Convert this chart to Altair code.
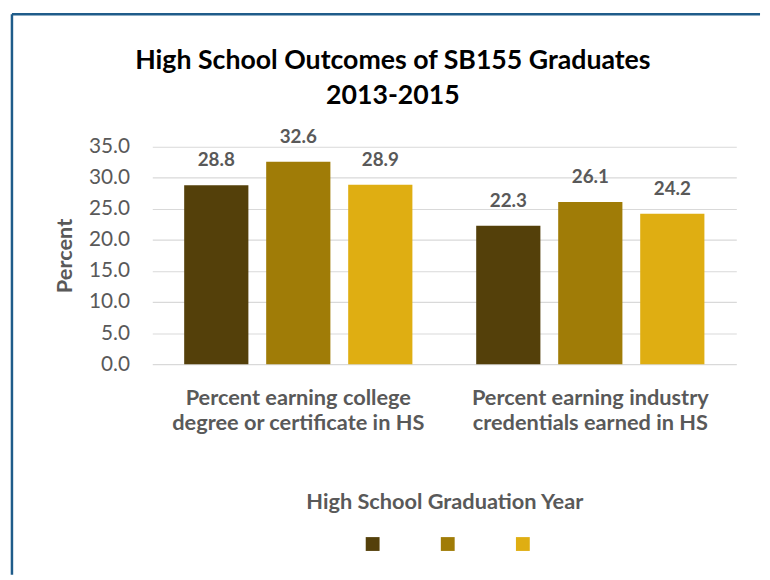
import altair as alt
import pandas as pd

categories = [
    "Percent earning college\ndegree or certificate in HS",
    "Percent earning industry\ncredentials earned in HS",
]
years = ["2013", "2014", "2015"]
values_2013 = [28.8, 22.3]
values_2014 = [32.6, 26.1]
values_2015 = [28.9, 24.2]
colors = ["#54400A", "#A07C07", "#DFAE12"]
y_ticks = [0, 5, 10, 15, 20, 25, 30, 35]

rows = []
for i, c in enumerate(categories):
    for y, vals in zip(years, [values_2013, values_2014, values_2015]):
        rows.append({"category": c, "year": y, "value": vals[i]})
df = pd.DataFrame(rows)

FONT = "Lato"
GRAY = "#595959"

x_enc = alt.X(
    "category:N",
    sort=categories,
    scale=alt.Scale(paddingInner=0, paddingOuter=0),
    axis=alt.Axis(
        title="High School Graduation Year",
        labelExpr="split(datum.label, '\\n')",
        labelAngle=0,
        labelPadding=24,
        labelBaseline="top",
        labelLineHeight=25,
        labelFontSize=22,
        labelFontWeight="bold",
        labelColor=GRAY,
        labelFont=FONT,
        labelLimit=0,
        labelOverlap=False,
        ticks=False,
        domain=False,
        titleFontSize=22,
        titleFontWeight="bold",
        titleColor=GRAY,
        titleFont=FONT,
        titlePadding=59,
    ),
)
xoff_enc = alt.XOffset(
    "year:N", sort=years, scale=alt.Scale(paddingInner=0.217, paddingOuter=0.389)
)
y_enc = alt.Y(
    "value:Q",
    scale=alt.Scale(domain=[0, 35], nice=False),
    axis=alt.Axis(
        title="Percent",
        values=y_ticks,
        tickCount=8,
        format=".1f",
        labelFontSize=21,
        labelColor=GRAY,
        labelFont=FONT,
        labelPadding=23,
        labelOverlap=False,
        labelFlush=False,
        ticks=False,
        domain=False,
        gridColor="#D9D9D9",
        gridWidth=1.2,
        titleFontSize=22,
        titleFontWeight="bold",
        titleColor=GRAY,
        titleFont=FONT,
        titlePadding=12,
    ),
)

bars = alt.Chart(df).mark_bar().encode(
    x=x_enc,
    xOffset=xoff_enc,
    y=y_enc,
    color=alt.Color(
        "year:N",
        sort=years,
        scale=alt.Scale(domain=years, range=colors),
        legend=alt.Legend(
            title=None,
            orient="none",
            direction="horizontal",
            legendX=216,
            legendY=395,
            symbolType="square",
            symbolSize=196,
            symbolStrokeWidth=0,
            labelColor="#FFFFFF",
            labelFontSize=14,
            labelFont=FONT,
            labelOffset=4,
            columnPadding=25,
            padding=0,
        ),
    ),
)

labels = alt.Chart(df).mark_text(
    baseline="alphabetic", dy=-19, fontSize=19, fontWeight="bold", color=GRAY, font=FONT
).encode(
    x=x_enc,
    xOffset=xoff_enc,
    y=y_enc,
    text=alt.Text("value:Q", format=".1f"),
)

frame_data = alt.Data(values=[{"f": 1}])
frame_top = alt.Chart(frame_data).mark_rule(color="#1F5C8A", strokeWidth=2.5).encode(
    x=alt.value(-142), x2=alt.value(615), y=alt.value(-134)
)
frame_left = alt.Chart(frame_data).mark_rule(color="#1F5C8A", strokeWidth=2.5).encode(
    x=alt.value(-142), y=alt.value(-134), y2=alt.value(433)
)

chart = (
    alt.layer(bars, labels, frame_top, frame_left)
    .properties(
        width=591,
        height=220,
        padding={"left": 2, "top": 1, "right": 0, "bottom": 0},
        title=alt.TitleParams(
            text=["High School Outcomes of SB155 Graduates", "2013-2015"],
            fontSize=27,
            fontWeight="bold",
            color="#000000",
            font=FONT,
            lineHeight=35,
            anchor="middle",
            frame="group",
            dx=-52,
            offset=-98,
        ),
    )
    .configure_view(stroke=None)
)

chart.save("out.html", embed_options={"renderer": "svg", "actions": False})
